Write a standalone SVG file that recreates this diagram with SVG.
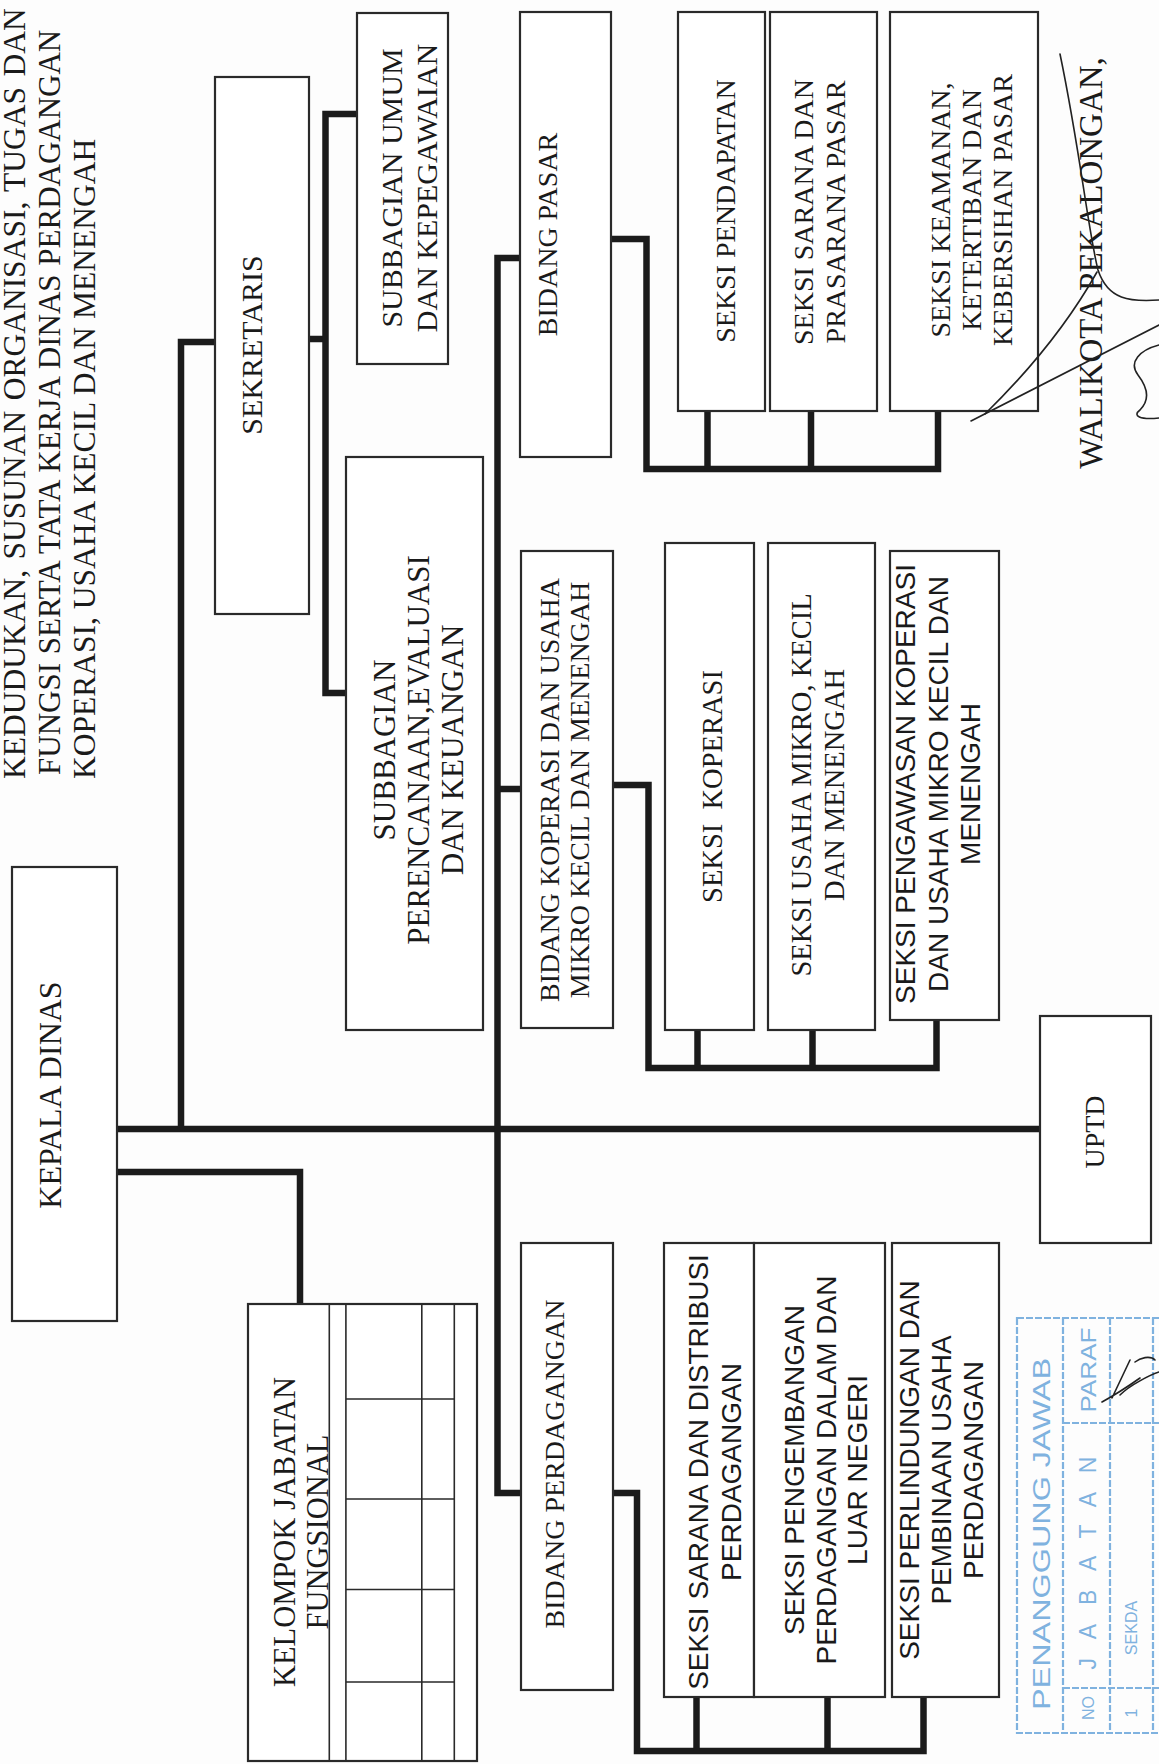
<svg xmlns="http://www.w3.org/2000/svg" width="1159" height="1764" viewBox="0 0 1159 1764">
<style>
.box{fill:#fff;stroke:#2a2a2a;stroke-width:2.2}
.thin{fill:none;stroke:#2a2a2a;stroke-width:1.6}
.conn{fill:none;stroke:#1b1b1b;stroke-width:6.5;stroke-linejoin:miter;stroke-linecap:butt}
.t{font-family:"Liberation Serif","Times New Roman",serif;font-size:28px;fill:#1a1a1a;text-anchor:middle}
.a{font-family:"Liberation Sans",Arial,sans-serif;font-size:28px;fill:#1a1a1a;text-anchor:middle}
.title{font-family:"Liberation Serif","Times New Roman",serif;font-size:31.5px;fill:#1a1a1a}
.stamp{fill:none;stroke:#7fb2df;stroke-width:2.2;stroke-dasharray:7 2}
.st{font-family:"Liberation Sans",Arial,sans-serif;fill:#7fb2df;text-anchor:middle}
.sig{fill:none;stroke:#222;stroke-width:1.6;stroke-linecap:round}
</style>
<rect x="0" y="0" width="1159" height="1764" fill="#fdfdfd"/>

<g id="title">
<text class="title" transform="translate(25.4,779) rotate(-90)"><tspan x="0" y="0" word-spacing="2.5">KEDUDUKAN, SUSUNAN ORGANISASI, TUGAS DAN</tspan><tspan x="4" dy="35" style="font-size:31px" word-spacing="1">FUNGSI SERTA TATA KERJA DINAS PERDAGANGAN</tspan><tspan x="0" dy="35">KOPERASI, USAHA KECIL DAN MENENGAH</tspan></text>
</g>

<g id="connectors">
<path class="conn" d="M117 1129 H1040"/>
<path class="conn" d="M181 1129 V342 H215"/>
<path class="conn" d="M309 339 H325.5"/>
<path class="conn" d="M357 114 H325.5 V693 H346"/>
<path class="conn" d="M520 258 H497.5 V1493 H521"/>
<path class="conn" d="M497.5 789 H521"/>
<path class="conn" d="M117 1172 H300 V1304"/>
<path class="conn" d="M611 239 H646.5 V469 H938 V411"/>
<path class="conn" d="M707.5 469 V411"/>
<path class="conn" d="M811 469 V411"/>
<path class="conn" d="M613 785 H648.5 V1068 H936.5 V1020"/>
<path class="conn" d="M697.5 1068 V1030"/>
<path class="conn" d="M812.5 1068 V1030"/>
<path class="conn" d="M613 1493 H637 V1751 H923.5 V1697"/>
<path class="conn" d="M696.5 1751 V1697"/>
<path class="conn" d="M827.5 1751 V1697"/>
</g>

<g id="kepala-dinas">
<rect class="box" x="12" y="867" width="105" height="454"/>
<text class="t" style="font-size:32px" transform="translate(60.6,1095) rotate(-90)">KEPALA DINAS</text>
</g>

<g id="sekretaris">
<rect class="box" x="215" y="77" width="94" height="537"/>
<text class="t" style="font-size:30px" transform="translate(262,345) rotate(-90)">SEKRETARIS</text>
</g>

<g id="subbagian-umum">
<rect class="box" x="357" y="13" width="91" height="351"/>
<text class="t" style="font-size:30px" transform="translate(402,188) rotate(-90)"><tspan x="0" y="0">SUBBAGIAN UMUM</tspan><tspan x="0" dy="35">DAN KEPEGAWAIAN</tspan></text>
</g>

<g id="subbagian-perencanaan">
<rect class="box" x="346" y="457" width="137" height="573"/>
<text class="t" style="font-size:31px" transform="translate(395,750) rotate(-90)"><tspan x="0" y="0">SUBBAGIAN</tspan><tspan x="0" dy="34">PERENCANAAN,EVALUASI</tspan><tspan x="0" dy="34">DAN KEUANGAN</tspan></text>
</g>

<g id="bidang-pasar">
<rect class="box" x="520" y="12" width="91" height="445"/>
<text class="t" transform="translate(557,234.5) rotate(-90)">BIDANG PASAR</text>
</g>

<g id="bidang-koperasi">
<rect class="box" x="521" y="551" width="92" height="477"/>
<text class="t" transform="translate(559,790) rotate(-90)"><tspan x="0" y="0">BIDANG KOPERASI DAN USAHA</tspan><tspan x="0" dy="30">MIKRO KECIL DAN MENENGAH</tspan></text>
</g>

<g id="bidang-perdagangan">
<rect class="box" x="521" y="1243" width="92" height="447"/>
<text class="t" transform="translate(564,1464) rotate(-90)">BIDANG PERDAGANGAN</text>
</g>

<g id="kelompok-jabatan-fungsional">
<rect class="box" x="248" y="1304" width="229" height="457"/>
<path class="thin" d="M329.3 1304 V1761 M345.9 1304 V1761 M421.8 1304 V1761 M454.3 1304 V1761 M345.9 1399 H454.3 M345.9 1499 H454.3 M345.9 1589.5 H454.3 M345.9 1682 H454.3"/>
<text class="t" style="font-size:30.5px" transform="translate(295,1532) rotate(-90)"><tspan x="0" y="0">KELOMPOK JABATAN</tspan><tspan x="0" dy="33">FUNGSIONAL</tspan></text>
</g>

<g id="uptd">
<rect class="box" x="1040" y="1016" width="111" height="227"/>
<text class="t" transform="translate(1104,1132) rotate(-90)">UPTD</text>
</g>

<g id="seksi-pendapatan">
<rect class="box" x="678" y="12" width="87" height="399"/>
<text class="t" transform="translate(735,211) rotate(-90)">SEKSI PENDAPATAN</text>
</g>

<g id="seksi-sarana-prasarana-pasar">
<rect class="box" x="770" y="12" width="107" height="399"/>
<text class="t" transform="translate(813,212) rotate(-90)"><tspan x="0" y="0">SEKSI SARANA DAN</tspan><tspan x="0" dy="31.5">PRASARANA PASAR</tspan></text>
</g>

<g id="seksi-keamanan">
<rect class="box" x="890" y="12" width="148" height="399"/>
<text class="t" transform="translate(949.5,210) rotate(-90)"><tspan x="0" y="0">SEKSI KEAMANAN,</tspan><tspan x="0" dy="31.4">KETERTIBAN DAN</tspan><tspan x="0" dy="31.4">KEBERSIHAN PASAR</tspan></text>
</g>

<g id="seksi-koperasi">
<rect class="box" x="665" y="543" width="89" height="487"/>
<text class="t" style="font-size:28.5px" transform="translate(722,786.5) rotate(-90)">SEKSI&#160; KOPERASI</text>
</g>

<g id="seksi-usaha-mikro">
<rect class="box" x="768" y="543" width="107" height="487"/>
<text class="t" style="font-size:28.5px" transform="translate(811,785) rotate(-90)"><tspan x="0" y="0">SEKSI USAHA MIKRO, KECIL</tspan><tspan x="0" dy="33">DAN MENENGAH</tspan></text>
</g>

<g id="seksi-pengawasan">
<rect class="box" x="890" y="551" width="109" height="469"/>
<text class="a" transform="translate(915,784) rotate(-90)"><tspan x="0" y="0">SEKSI PENGAWASAN KOPERASI</tspan><tspan x="0" dy="33">DAN USAHA MIKRO KECIL DAN</tspan><tspan x="0" dy="32">MENENGAH</tspan></text>
</g>

<g id="seksi-sarana-distribusi">
<rect class="box" x="664" y="1243" width="90" height="454"/>
<text class="a" transform="translate(708,1472) rotate(-90)"><tspan x="0" y="0">SEKSI SARANA DAN DISTRIBUSI</tspan><tspan x="0" dy="33">PERDAGANGAN</tspan></text>
</g>

<g id="seksi-pengembangan">
<rect class="box" x="754" y="1243" width="131" height="454"/>
<text class="a" transform="translate(804,1470) rotate(-90)"><tspan x="0" y="0">SEKSI PENGEMBANGAN</tspan><tspan x="0" dy="31.5">PERDAGANGAN DALAM DAN</tspan><tspan x="0" dy="31.5">LUAR NEGERI</tspan></text>
</g>

<g id="seksi-perlindungan">
<rect class="box" x="892" y="1243" width="107" height="454"/>
<text class="a" transform="translate(919,1470) rotate(-90)"><tspan x="0" y="0">SEKSI PERLINDUNGAN DAN</tspan><tspan x="0" dy="32">PEMBINAAN USAHA</tspan><tspan x="0" dy="32">PERDAGANGAN</tspan></text>
</g>

<g id="walikota">
<text class="t" style="font-size:33px" transform="translate(1102,263) rotate(-90)">WALIKOTA PEKALONGAN,</text>
<path class="sig" d="M1060 54 C1080 150 1088 230 1098 270 C1108 300 1130 302 1159 300"/>
<path class="sig" d="M971 421 L1159 325"/>
<path class="sig" d="M985 414 C1030 370 1070 320 1097 272"/>
<path class="sig" d="M1159 345 C1140 350 1128 362 1138 375 C1148 388 1150 400 1140 410 C1132 416 1140 420 1159 418"/>
</g>

<g id="stamp">
<rect class="stamp" x="1017" y="1318" width="160" height="415"/>
<path class="stamp" d="M1063 1318 V1733 M1110 1318 V1733 M1153 1318 V1733 M1063 1423 H1159 M1063 1688 H1159"/>
<text class="st" style="font-size:24px" transform="translate(1050,1534) rotate(-90)" textLength="352" lengthAdjust="spacingAndGlyphs">PENANGGUNG JAWAB</text>
<text class="st" style="font-size:23px" transform="translate(1096,1563) rotate(-90)" textLength="213" lengthAdjust="spacing">JABATAN</text>
<text class="st" style="font-size:22px" transform="translate(1096,1370) rotate(-90)" textLength="85" lengthAdjust="spacingAndGlyphs">PARAF</text>
<text class="st" style="font-size:16px" transform="translate(1094,1708) rotate(-90)">NO</text>
<text class="st" style="font-size:16px" transform="translate(1137,1628) rotate(-90)">SEKDA</text>
<text class="st" style="font-size:16px" transform="translate(1137,1713) rotate(-90)">1</text>
<path class="sig" d="M1102 1402 C1115 1395 1130 1385 1140 1378 M1112 1398 L1130 1360 M1120 1395 C1130 1385 1150 1375 1159 1372 M1135 1362 C1140 1358 1150 1355 1155 1360"/>
</g>
</svg>
